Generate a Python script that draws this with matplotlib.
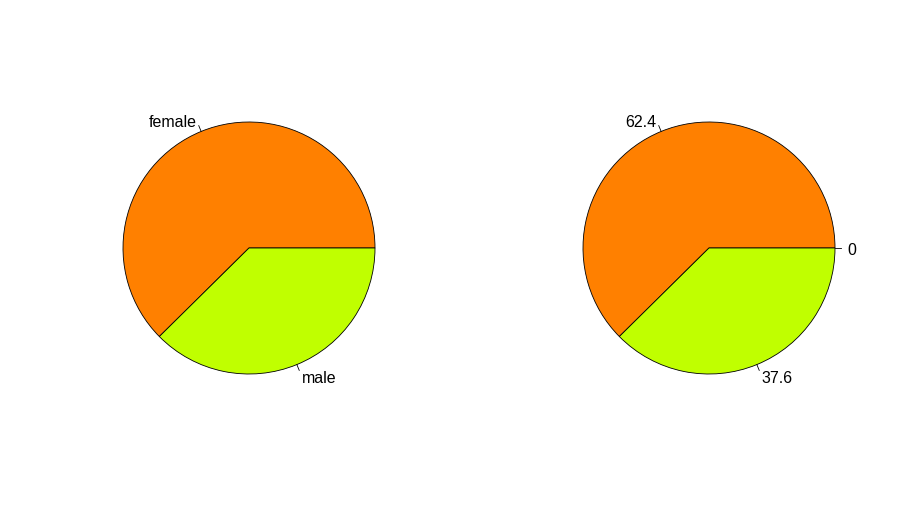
import numpy as np
import matplotlib
matplotlib.use("Agg")
import matplotlib.pyplot as plt
from matplotlib.patches import Wedge

left_labels = ["female", "male"]
left_values = [62.4, 37.6]
right_values = [62.4, 37.6, 0.0]
right_labels = ["62.4", "37.6", "0"]
colors = ["#FF8000", "#C0FF00", "#FFFFFF"]

plt.rcParams['font.family'] = ['Liberation Sans', 'DejaVu Sans']

W, H = 920, 516
fig = plt.figure(figsize=(W / 100, H / 100), dpi=100)
ax = fig.add_axes([0, 0, 1, 1])
ax.set_xlim(0, W)
ax.set_ylim(0, H)
ax.set_aspect('equal')
ax.axis('off')

R = 126


def draw_pie(cx, cy, values, labels):
    vals = np.array(values, dtype=float)
    fr = vals / vals.sum()
    edges = np.concatenate([[0], np.cumsum(fr)]) * 360
    for i in range(len(vals)):
        if fr[i] > 0:
            w = Wedge((cx, cy), R, edges[i], edges[i + 1], facecolor=colors[i],
                      edgecolor='black', linewidth=0.6)
            ax.add_patch(w)
    for i in range(len(vals)):
        mid = np.deg2rad((edges[i] + edges[i + 1]) / 2)
        c, s = np.cos(mid), np.sin(mid)
        ax.plot([cx + R * c, cx + 1.05 * R * c], [cy + R * s, cy + 1.05 * R * s],
                color='black', linewidth=0.6)
        ax.text(cx + 1.1 * R * c, cy + 1.1 * R * s - 2.5, labels[i],
                ha='left' if c > 0 else 'right', va='center', fontsize=11.5)


draw_pie(249, H - 248, left_values, left_labels)
draw_pie(709, H - 248, right_values, right_labels)

fig.savefig("out.png", dpi=100)
